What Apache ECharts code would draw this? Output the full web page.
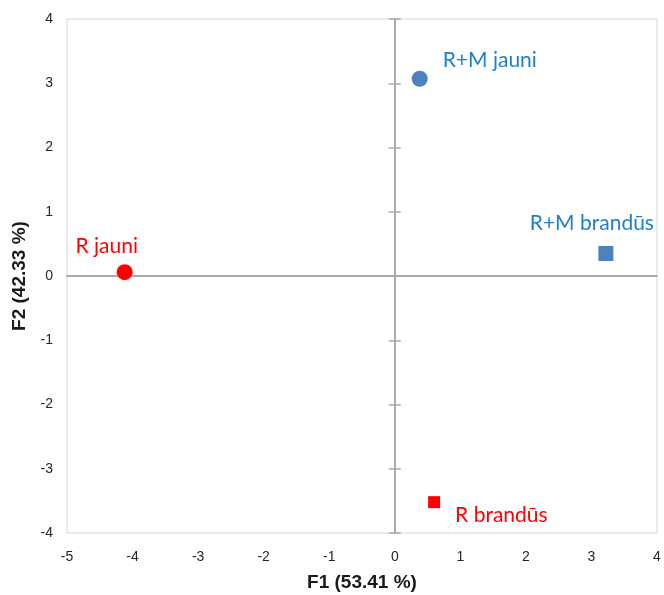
<!DOCTYPE html>
<html>
<head>
<meta charset="utf-8">
<script src="https://cdn.jsdelivr.net/npm/echarts@6/dist/echarts.min.js"></script>
<style>
html,body{margin:0;padding:0;background:#fff;}
#chart{width:664px;height:595px;}
</style>
</head>
<body>
<div id="chart"></div>
<script>
// Data
const names = ['R+M jauni', 'R+M brandūs', 'R jauni', 'R brandūs'];
const f1 = [0.38, 3.22, -4.12, 0.60];
const f2 = [3.07, 0.35, 0.06, -3.52];
const xTitle = 'F1 (53.41 %)';
const yTitle = 'F2 (42.33 %)';
const xMin = -5, xMax = 4, yMin = -4, yMax = 4;

// Styles (per point)
const pointColors = ['#4f81bd', '#4f81bd', '#ff0000', '#ff0000'];
const labelColors = ['#1f7fcc', '#1f7fcc', '#ff0000', '#ff0000'];
const symbols = ['circle', 'rect', 'circle', 'rect'];
const symbolSizes = [16, 15, 16, 12];
const labelAlign = ['left', 'center', 'center', 'left'];
const labelOffsets = [[23, -19], [-14, -30], [-18, -26], [21, 13]];

const chart = echarts.init(document.getElementById('chart'), null, {renderer: 'canvas'});

const gridLine = '#ababab';
const tickFont = {fontFamily: 'Liberation Sans', fontSize: 14, color: '#262626'};

function zeroAxis(pos, extra) {
  return Object.assign({
    type: 'value', min: 0, max: 0, interval: 1, position: pos,
    axisLine: {show: true, onZero: true, onZeroAxisIndex: 0, lineStyle: {color: gridLine, width: 2}},
    axisTick: {show: true, inside: false, length: 6, lineStyle: {color: gridLine, width: 1.5}},
    axisLabel: {show: false},
    splitLine: {show: false}
  }, extra);
}

const xAxes = [
  zeroAxis('bottom', {min: xMin, max: xMax, axisTick: {show: false}}),
  zeroAxis('top', {min: xMin, max: xMax, axisLine: {show: false, onZero: true, onZeroAxisIndex: 0}, axisTick: {show: false}}),
  {
    type: 'value', min: xMin, max: xMax, interval: 1, position: 'bottom',
    axisLine: {show: false, onZero: false}, axisTick: {show: false}, splitLine: {show: false},
    axisLabel: Object.assign({margin: 17}, tickFont),
    name: xTitle, nameLocation: 'middle', nameGap: 40,
    nameTextStyle: {fontFamily: 'Liberation Sans', fontSize: 19, fontWeight: 'bold', color: '#1a1a1a'}
  }
];
const yAxes = [
  zeroAxis('left', {min: yMin, max: yMax}),
  zeroAxis('right', {min: yMin, max: yMax, axisLine: {show: false, onZero: true, onZeroAxisIndex: 0}}),
  {
    type: 'value', min: yMin, max: yMax, interval: 1, position: 'left',
    axisLine: {show: false, onZero: false}, axisTick: {show: false}, splitLine: {show: false},
    axisLabel: Object.assign({margin: 14}, tickFont),
    name: yTitle, nameLocation: 'middle', nameGap: 32, nameRotate: 90,
    nameTextStyle: {fontFamily: 'Liberation Sans', fontSize: 19, fontWeight: 'bold', color: '#1a1a1a'}
  }
];

const seriesData = names.map((n, i) => ({
  name: n,
  value: [f1[i], f2[i]],
  symbol: symbols[i],
  symbolSize: symbolSizes[i],
  itemStyle: {color: pointColors[i], opacity: 1},
  label: {
    show: true,
    formatter: n,
    position: [symbolSizes[i] / 2 + labelOffsets[i][0], symbolSizes[i] / 2 + labelOffsets[i][1]],
    align: labelAlign[i],
    verticalAlign: 'middle',
    color: labelColors[i],
    opacity: 1,
    fontFamily: 'Lato',
    fontSize: 21
  }
}));

chart.setOption({
  animation: false,
  backgroundColor: '#fff',
  grid: {left: 67, top: 19, right: 7, bottom: 62, show: true, borderColor: '#d6d6d6', borderWidth: 1, containLabel: false, outerBoundsMode: 'none'},
  xAxis: xAxes,
  yAxis: yAxes,
  series: [{
    type: 'scatter',
    xAxisIndex: 0,
    yAxisIndex: 0,
    itemStyle: {opacity: 1},
    emphasis: {disabled: true},
    data: seriesData,
    labelLayout: {hideOverlap: false}
  }]
});
</script>
</body>
</html>
